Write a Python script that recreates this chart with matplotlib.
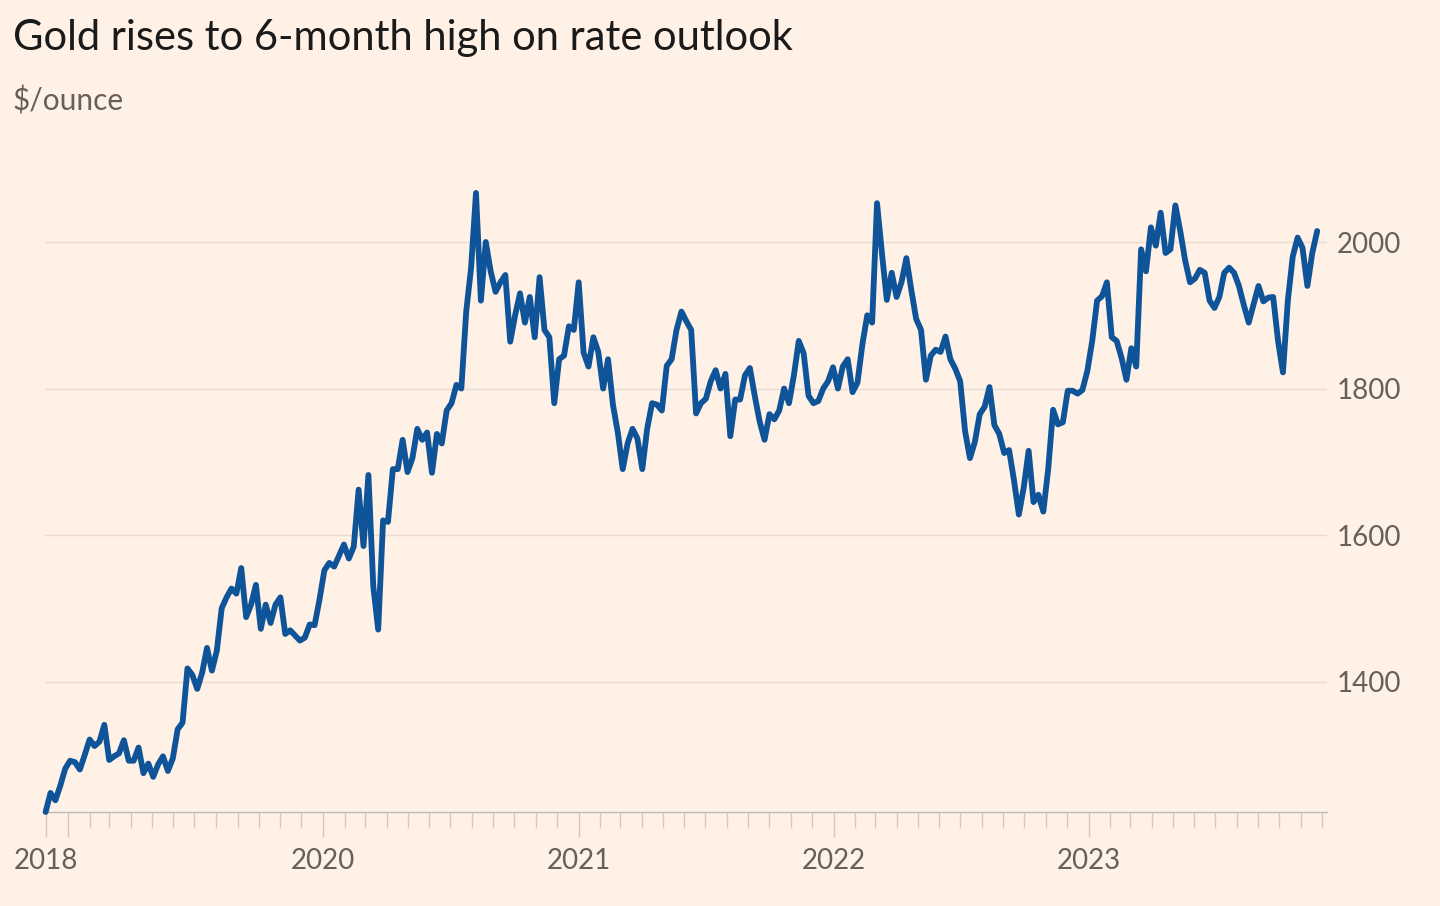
import numpy as np
import pandas as pd
import matplotlib
matplotlib.use("Agg")
import matplotlib.pyplot as plt
import matplotlib.dates as mdates

plt.rcParams['font.family'] = ['Lato', 'DejaVu Sans']

# weekly gold price, $/ounce (Friday closes, with the week's spikes kept)
gold_2018 = [1222, 1248, 1238, 1258, 1281]
gold_2019 = [1292, 1290, 1280, 1300, 1321, 1312, 1318, 1341, 1293, 1298, 1302, 1320, 1292,
             1292, 1310, 1275, 1288, 1270, 1287, 1298, 1278, 1295, 1335, 1344, 1418, 1409,
             1390, 1412, 1446, 1415, 1442, 1500, 1515, 1527, 1520, 1555, 1488, 1505, 1532,
             1472, 1505, 1480, 1505, 1515, 1465, 1470, 1463, 1456, 1460, 1478, 1477, 1512]
gold_2020 = [1552, 1562, 1557, 1572, 1587, 1568, 1584, 1662, 1585, 1682, 1530, 1471, 1620,
             1618, 1690, 1690, 1730, 1686, 1705, 1745, 1730, 1740, 1685, 1738, 1725, 1770,
             1780, 1805, 1800, 1905, 1965, 2067, 1920, 2000, 1960, 1932, 1945, 1955, 1864,
             1900, 1930, 1890, 1925, 1870, 1952, 1880, 1870, 1780, 1840, 1845, 1885, 1880]
gold_2021 = [1945, 1849, 1830, 1870, 1850, 1800, 1840, 1778, 1740, 1690, 1725, 1745, 1732,
             1690, 1745, 1780, 1778, 1770, 1831, 1840, 1880, 1905, 1892, 1880, 1766, 1780,
             1786, 1810, 1825, 1800, 1820, 1735, 1785, 1785, 1818, 1828, 1790, 1755, 1730,
             1765, 1758, 1770, 1800, 1780, 1818, 1865, 1848, 1790, 1780, 1783, 1800, 1810,
             1829]
gold_2022 = [1800, 1830, 1840, 1795, 1808, 1860, 1900, 1890, 2053, 1985, 1921, 1958, 1925,
             1945, 1978, 1935, 1895, 1880, 1812, 1845, 1853, 1850, 1871, 1840, 1827, 1810,
             1742, 1705, 1727, 1765, 1775, 1802, 1750, 1738, 1712, 1716, 1675, 1628, 1665,
             1715, 1645, 1655, 1632, 1690, 1771, 1751, 1754, 1797, 1797, 1793, 1798, 1824]
gold_2023 = [1865, 1920, 1926, 1945, 1870, 1865, 1842, 1812, 1855, 1830, 1990, 1960, 2020,
             1995, 2040, 1985, 1990, 2050, 2015, 1975, 1945, 1950, 1962, 1958, 1920, 1910,
             1925, 1958, 1965, 1958, 1940, 1914, 1890, 1915, 1940, 1919, 1924, 1925, 1865,
             1822, 1920, 1980, 2006, 1992, 1940, 1985, 2015]

prices = gold_2018 + gold_2019 + gold_2020 + gold_2021 + gold_2022 + gold_2023
dates = pd.date_range('2018-11-30', periods=len(prices), freq='W-FRI')

y_ticks = [1400, 1600, 1800, 2000]
year_ticks = ['2018-12-01', '2019-01-01', '2020-01-01', '2021-01-01', '2022-01-01', '2023-01-01']
year_labels = ['2018', '', '2020', '2021', '2022', '2023']

bg = '#fff1e5'
grey = '#66605c'

fig = plt.figure(figsize=(14.4, 9.06), dpi=100, facecolor=bg)
ax = fig.add_axes([0.0312, 0.10375, 0.8903, 0.7100], facecolor=bg)

ax.plot(dates, prices, color='#0f5499', lw=4.2, solid_joinstyle='round',
        solid_capstyle='round', clip_on=False, zorder=3)

ax.set_xlim(pd.Timestamp('2018-11-29'), pd.Timestamp('2023-12-08'))
ax.set_ylim(1222, 2100)

# y axis on the right, gridlines only
ax.yaxis.tick_right()
ax.set_yticks(y_ticks)
ax.set_yticklabels([str(v) for v in y_ticks])
ax.tick_params(axis='y', length=0, pad=7, labelsize=20, labelcolor=grey)
ax.grid(axis='y', color='#e8dcd2', lw=1)
ax.set_axisbelow(True)

# x axis: monthly ticks, longer ones at the years
ax.set_xticks(pd.to_datetime(year_ticks))
ax.set_xticklabels(year_labels)
ax.xaxis.set_minor_locator(mdates.MonthLocator())
ax.tick_params(axis='x', which='major', length=18, width=1, color='#cfcac5',
               pad=8, labelsize=20, labelcolor=grey)
ax.tick_params(axis='x', which='minor', length=11.5, width=1, color='#cfcac5')

for s in ['left', 'top', 'right']:
    ax.spines[s].set_visible(False)
ax.spines['bottom'].set_color('#bdb8b3')
ax.spines['bottom'].set_linewidth(1)

fig.text(0.009, 0.9448, 'Gold rises to 6-month high on rate outlook',
         fontsize=30, color='#1a1a1a', va='baseline')
fig.text(0.009, 0.8775, '$/ounce', fontsize=21.5, color=grey, va='baseline')

fig.savefig('out.png', dpi=100, facecolor=bg)
